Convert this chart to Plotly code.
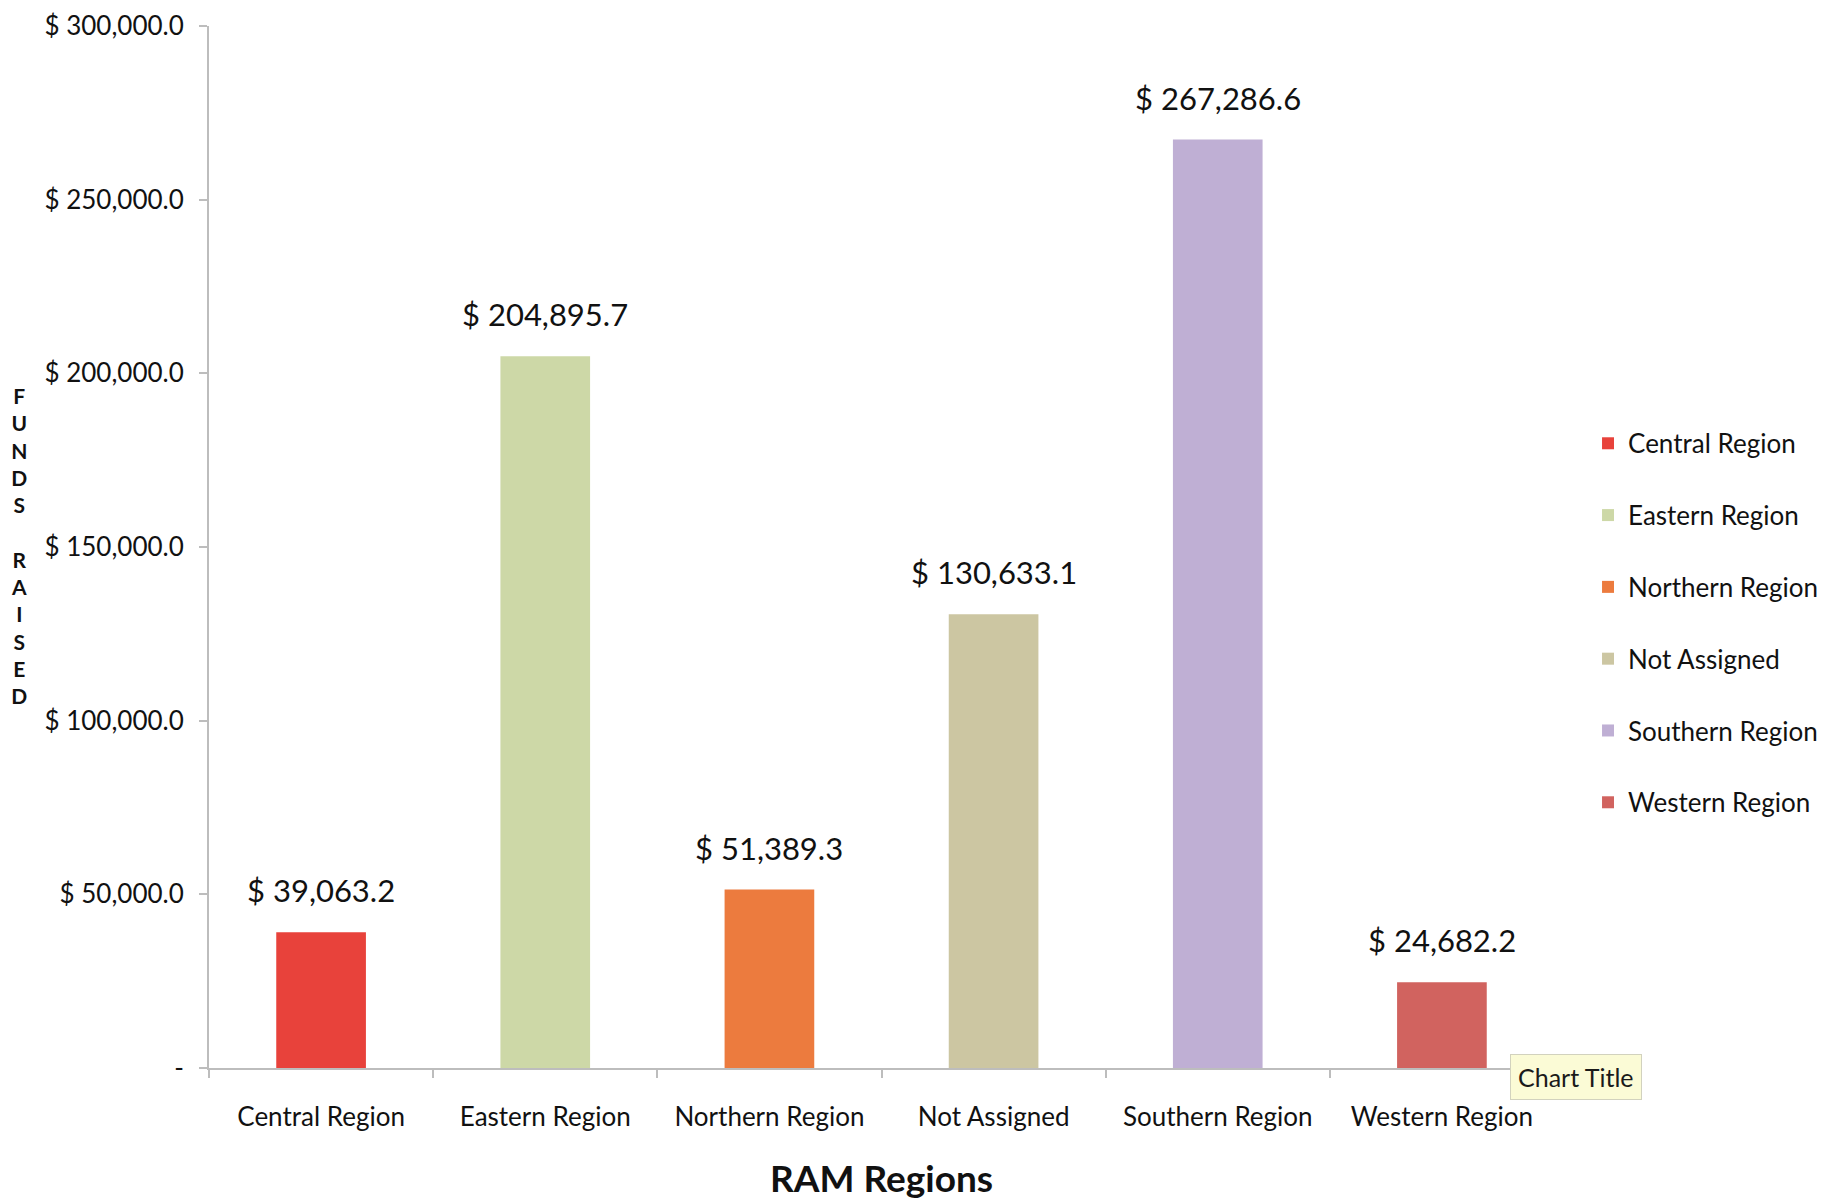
import plotly.graph_objects as go

categories = ["Central Region", "Eastern Region", "Northern Region", "Not Assigned", "Southern Region", "Western Region"]
funds = [39063.2, 204895.7, 51389.3, 130633.1, 267286.6, 24682.2]
colors = ["#E8423B", "#CDD8A7", "#EC7B3E", "#CCC6A2", "#BFAFD4", "#D1635F"]
y_tickvals = [0, 50000, 100000, 150000, 200000, 250000, 300000]
y_ticktext = ["-", "$ 50,000.0", "$ 100,000.0", "$ 150,000.0", "$ 200,000.0", "$ 250,000.0", "$ 300,000.0"]

FONT = "Lato, 'Open Sans', sans-serif"

fig = go.Figure()
for i, (cat, val, col) in enumerate(zip(categories, funds, colors)):
    fig.add_trace(go.Bar(
        x=[cat], y=[val], name=cat, marker=dict(color=col, line=dict(width=0)),
        width=0.4, legendgroup=f"g{i}", hoverinfo="skip",
    ))
    fig.add_annotation(
        x=cat, y=val, xref="x", yref="y", text=f"$ {val:,.1f}",
        showarrow=False, yanchor="bottom", yshift=21,
        font=dict(family=FONT, size=31, color="#111111"),
    )

fig.add_annotation(
    xref="paper", yref="paper", x=-0.1413, y=0.501, xanchor="center", yanchor="middle",
    text="<b>F<br>U<br>N<br>D<br>S<br> <br>R<br>A<br>I<br>S<br>E<br>D</b>",
    showarrow=False, font=dict(family=FONT, size=21, color="#111111"),
)

fig.add_annotation(
    xref="paper", yref="paper", x=1.0165, y=-0.0086, xanchor="center", yanchor="middle",
    text="Chart Title", showarrow=False,
    font=dict(family=FONT, size=25, color="#1a1a1a"),
    bgcolor="#FBFBD6", bordercolor="#D2D2BE", borderwidth=1, borderpad=7,
)

fig.update_layout(
    width=1827, height=1195,
    margin=dict(l=201, r=281, t=18, b=135, autoexpand=False),
    paper_bgcolor="white", plot_bgcolor="white",
    barmode="overlay",
    font=dict(family=FONT, color="#111111"),
    showlegend=True,
    legend=dict(
        x=1.0253, y=0.622, xanchor="left", yanchor="top",
        font=dict(family=FONT, size=26, color="#111111"),
        tracegroupgap=35, itemwidth=30,
        bgcolor="rgba(0,0,0,0)",
    ),
    xaxis=dict(
        type="category", categoryorder="array", categoryarray=categories,
        showline=True, linecolor="#BDBDBD", linewidth=2,
        ticks="outside", tickson="boundaries", ticklen=8, tickcolor="#BDBDBD", tickwidth=2,
        tickfont=dict(family=FONT, size=26, color="#111111"),
        ticklabelstandoff=25, automargin=False,
        showgrid=False, zeroline=False,
        title=dict(text="<b>RAM Regions</b>", font=dict(family=FONT, size=37, color="#111111"), standoff=35),
    ),
    yaxis=dict(
        range=[0, 300000], tickvals=y_tickvals, ticktext=y_ticktext,
        showline=True, linecolor="#BDBDBD", linewidth=2,
        ticks="outside", ticklen=8, tickcolor="#BDBDBD", tickwidth=2,
        tickfont=dict(family=FONT, size=26, color="#111111"),
        ticklabelstandoff=10, automargin=False,
        showgrid=False, zeroline=False,
    ),
)

fig.write_html("out.html")
